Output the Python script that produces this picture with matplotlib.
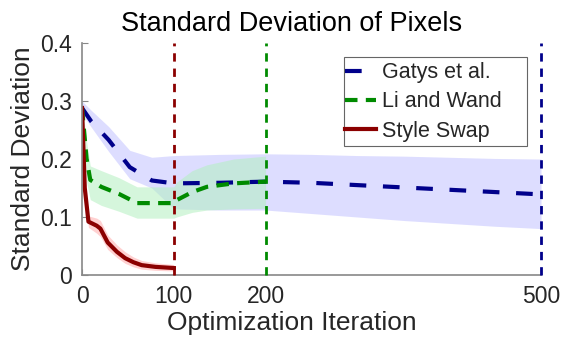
import numpy as np
import matplotlib
matplotlib.use("Agg")
import matplotlib.pyplot as plt
from matplotlib.patches import Rectangle

plt.rcParams['font.family'] = ['Liberation Sans', 'DejaVu Sans']

# Gatys et al.
gatys_x = [0, 10, 29, 52, 76, 100, 150, 200, 250, 300, 350, 400, 450, 500]
gatys_y = [0.288, 0.265, 0.233, 0.186, 0.163, 0.158, 0.159, 0.161, 0.159, 0.155, 0.151, 0.147, 0.143, 0.139]
gatys_lo = [0.278, 0.255, 0.213, 0.166, 0.150, 0.114, 0.112, 0.112, 0.106, 0.100, 0.094, 0.089, 0.084, 0.080]
gatys_hi = [0.300, 0.284, 0.256, 0.215, 0.203, 0.206, 0.208, 0.209, 0.208, 0.206, 0.205, 0.203, 0.201, 0.200]

# Li and Wand
li_x = [0, 5, 9, 21, 40, 60, 100, 103, 120, 136, 165, 200]
li_y = [0.288, 0.200, 0.164, 0.152, 0.140, 0.124, 0.124, 0.129, 0.143, 0.152, 0.158, 0.161]
li_lo = [0.280, 0.160, 0.130, 0.120, 0.110, 0.098, 0.098, 0.100, 0.108, 0.112, 0.114, 0.115]
li_hi = [0.296, 0.230, 0.188, 0.180, 0.168, 0.152, 0.152, 0.160, 0.180, 0.190, 0.200, 0.205]

# Style Swap
ss_x = [0, 3, 7, 16, 20, 28, 38, 47, 56, 65, 80, 100]
ss_y = [0.288, 0.150, 0.092, 0.085, 0.080, 0.056, 0.040, 0.029, 0.022, 0.017, 0.014, 0.012]
ss_lo = [0.280, 0.140, 0.082, 0.072, 0.066, 0.044, 0.030, 0.020, 0.014, 0.010, 0.008, 0.007]
ss_hi = [0.296, 0.160, 0.102, 0.098, 0.094, 0.069, 0.052, 0.040, 0.031, 0.025, 0.021, 0.018]

# vertical markers
vlines_x = [100, 200, 500]
xticks = [0, 100, 200, 500]
yticks = [0, 0.1, 0.2, 0.3, 0.4]
ytick_labels = ['0', '0.1', '0.2', '0.3', '0.4']

navy = '#00008B'
green = '#008B00'
dred = '#8B0000'
txt = '#262626'

fig = plt.figure(figsize=(5.68, 3.5), dpi=100)
ax = fig.add_axes([0.1444, 0.2143, 0.8081, 0.6627])

ax.fill_between(gatys_x, gatys_lo, gatys_hi, color='#ccccff', alpha=0.65, lw=0)
ax.fill_between(li_x, li_lo, li_hi, color='#b3f0c0', alpha=0.55, lw=0)
ax.fill_between(ss_x, ss_lo, ss_hi, color='#ffb3b3', alpha=0.6, lw=0)

l1, = ax.plot(gatys_x, gatys_y, color=navy, lw=3, dashes=(4, 4), label='Gatys et al.')
l2, = ax.plot(li_x, li_y, color=green, lw=3, dashes=(3, 2), label='Li and Wand')
l3, = ax.plot(ss_x, ss_y, color=dred, lw=3, label='Style Swap')

for xv, c in zip(vlines_x, [dred, green, navy]):
    ax.axvline(xv, color=c, lw=2, dashes=(3, 2.5), zorder=3, clip_on=False)

ax.set_xlim(0, 500)
ax.set_ylim(0, 0.4)
ax.set_xticks(xticks)
ax.set_yticks(yticks)
ax.set_yticklabels(ytick_labels)
ax.tick_params(direction='in', length=4, color='#888888', labelsize=16.5, labelcolor=txt, pad=7)
for s in ['top', 'right']:
    ax.spines[s].set_visible(False)
for s in ['left', 'bottom']:
    ax.spines[s].set_color('#888888')
    ax.spines[s].set_linewidth(1.2)

ax.set_title('Standard Deviation of Pixels', fontsize=19.5, color='black', pad=9, x=0.4575)
ax.set_xlabel('Optimization Iteration', fontsize=19, color=txt, labelpad=0)
ax.xaxis.set_label_coords(0.4575, -0.155)
ax.xaxis.label.set_va('top')
ax.set_ylabel('Standard Deviation', fontsize=19, color=txt, labelpad=4)

# legend frame (drawn as a rectangle in axes coordinates)
box = Rectangle((0.571, 0.556), 0.3985, 0.3837, transform=ax.transAxes,
                facecolor='white', edgecolor='#666666', lw=0.8, zorder=4)
ax.add_patch(box)
leg = ax.legend(loc='upper left', bbox_to_anchor=(0.573, 0.917), fontsize=15.5,
                frameon=False, handlelength=1.45, handletextpad=0.25, borderpad=0,
                labelspacing=0.38, borderaxespad=0)
leg.set_zorder(5)
for t in leg.get_texts():
    t.set_color(txt)

fig.savefig('out.png', dpi=100)
